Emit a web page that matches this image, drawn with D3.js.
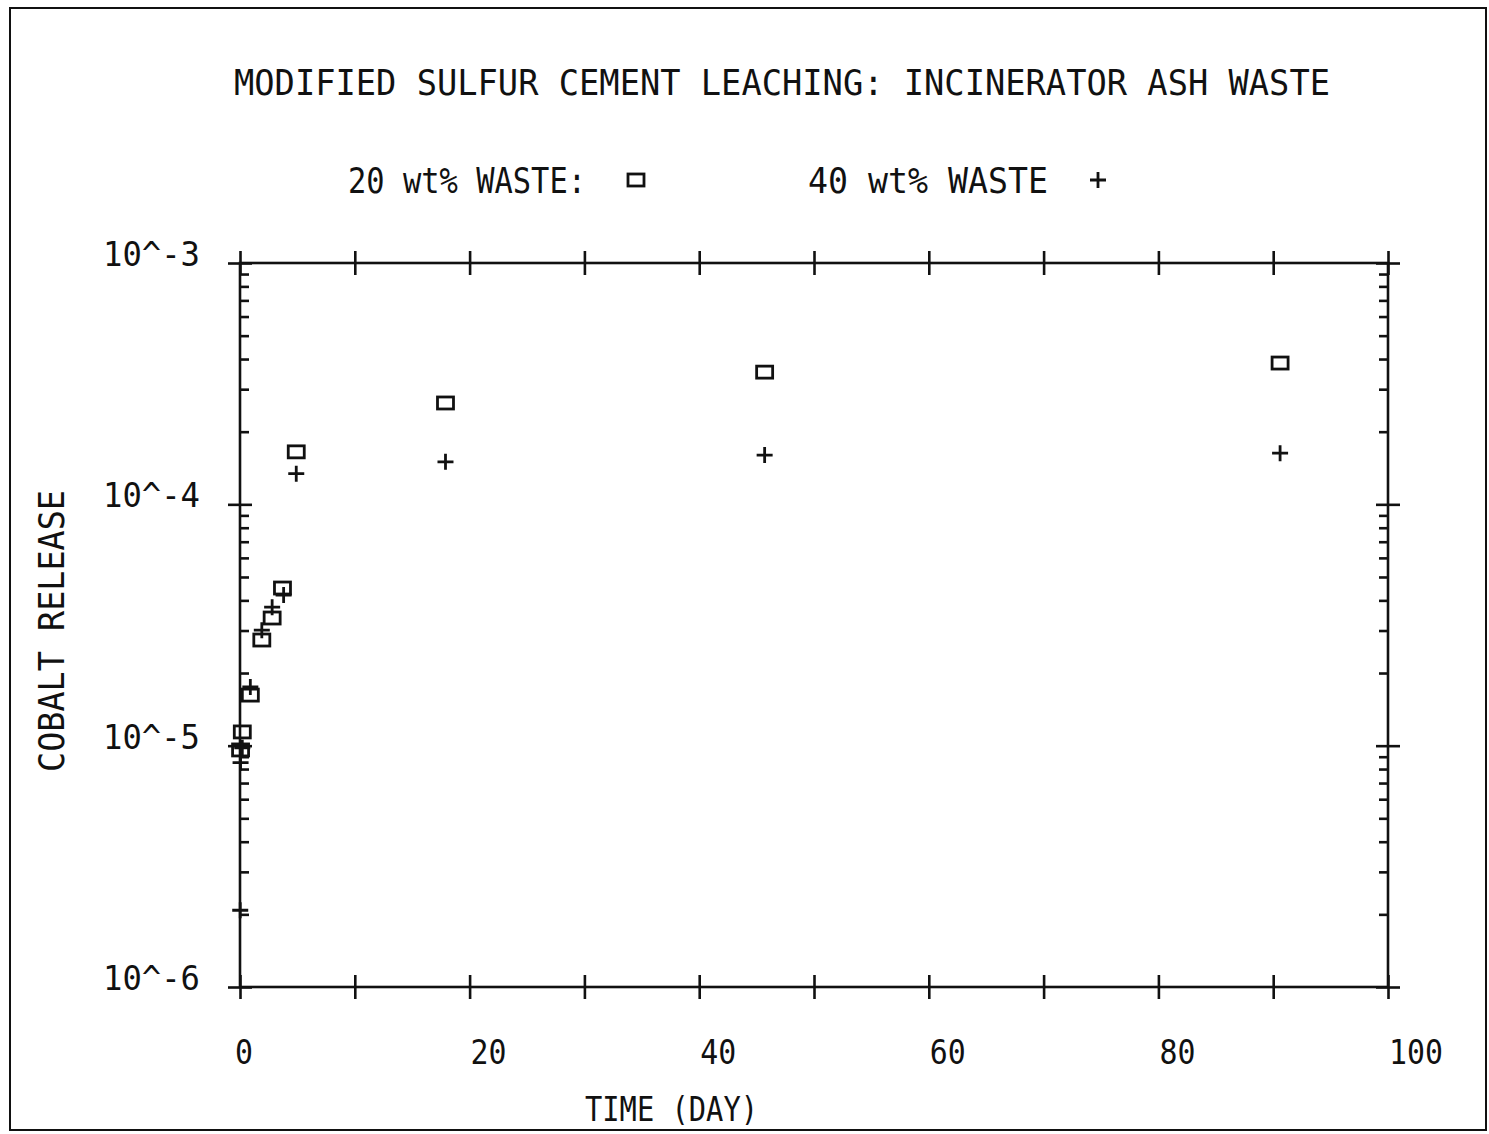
<!DOCTYPE html>
<html>
<head>
<meta charset="utf-8">
<script src="https://cdn.jsdelivr.net/npm/d3@7"></script>
<style>
  body { margin: 0; background: #fff; }
  svg text { font-family: "DejaVu Sans Mono", monospace; fill: #111; }
</style>
</head>
<body>
<div class="chart"></div>
<script>

// values (days, fraction released)
const days20 = [0.05, 0.2, 0.9, 1.9, 2.8, 3.7, 4.9, 17.9, 45.7, 90.6]
const release20 = [9.6e-6, 1.14e-5, 1.62e-5, 2.74e-5, 3.38e-5, 4.5e-5, 1.65e-4, 2.63e-4, 3.53e-4, 3.85e-4]

const days40 = [0.02, 0.05, 0.2, 0.9, 1.9, 2.8, 3.8, 4.9, 17.9, 45.7, 90.6]
const release40 = [2.08e-6, 8.5e-6, 9.8e-6, 1.75e-5, 3.01e-5, 3.75e-5, 4.21e-5, 1.34e-4, 1.5e-4, 1.6e-4, 1.63e-4]

const xTicks = [0, 20, 40, 60, 80, 100]
const yTicks = [1e-6, 1e-5, 1e-4, 1e-3]
const yTickLabels = ['10^-6', '10^-5', '10^-4', '10^-3']

const width = 1489;
const height = 1134;

const plot = {left: 240, right: 1388, top: 263, bottom: 987}

const svg = d3.select('.chart')
.append('svg')
.attr('width', width)
.attr('height', height);

const x = d3.scaleLinear()
.domain([0, 100])
.range([plot.left, plot.right])

const y = d3.scaleLog()
.domain([1e-6, 1e-3])
.range([plot.bottom, plot.top])

const ink = '#111'

// outer frame
svg.append('rect')
.attr('x', 10).attr('y', 8)
.attr('width', 1476).attr('height', 1122)
.attr('fill', 'none')
.attr('stroke', ink)
.attr('stroke-width', 2)

// box
svg.append('rect')
.attr('x', plot.left).attr('y', plot.top)
.attr('width', plot.right - plot.left).attr('height', plot.bottom - plot.top)
.attr('fill', 'none')
.attr('stroke', ink)
.attr('stroke-width', 2.6)

const styleAxis = (g) => {
	g.select('.domain').remove()
	g.selectAll('.tick line').attr('stroke', ink).attr('stroke-width', 2.6)
	g.selectAll('.tick text').remove()
}

// x ticks, crossing the bottom and top lines
const xMajor = d3.range(0, 101, 10)

svg.append('g')
.attr('transform', `translate(0,${plot.bottom - 12})`)
.call(d3.axisBottom(x).tickValues(xMajor).tickSize(24))
.call(styleAxis)

svg.append('g')
.attr('transform', `translate(0,${plot.top - 12})`)
.call(d3.axisBottom(x).tickValues(xMajor).tickSize(24))
.call(styleAxis)

// y decades cross the side lines
svg.append('g')
.attr('transform', `translate(${plot.left - 12},0)`)
.call(d3.axisRight(y).tickValues(yTicks).tickSize(24))
.call(styleAxis)

svg.append('g')
.attr('transform', `translate(${plot.right - 12},0)`)
.call(d3.axisRight(y).tickValues(yTicks).tickSize(24))
.call(styleAxis)

// minor log ticks, inside only
let minor = []
for (let e = -6; e < -3; e++) {
	for (let k = 2; k <= 9; k++) minor.push(k * Math.pow(10, e))
}

svg.append('g')
.attr('transform', `translate(${plot.left},0)`)
.call(d3.axisRight(y).tickValues(minor).tickSize(9))
.call(styleAxis)

svg.append('g')
.attr('transform', `translate(${plot.right},0)`)
.call(d3.axisLeft(y).tickValues(minor).tickSize(9))
.call(styleAxis)

// tick labels
svg.append('g')
.selectAll('text')
.data(xTicks)
.enter()
.append('text')
.attr('x', d => x(d) + (d === 0 ? -5 : 1))
.attr('y', 1064)
.attr('font-size', 34)
.attr('textLength', d => String(d).length * 18)
.attr('lengthAdjust', 'spacingAndGlyphs')
.attr('text-anchor', 'start')
.text(d => d)

svg.append('g')
.selectAll('text')
.data(yTicks)
.enter()
.append('text')
.attr('x', 103)
.attr('y', d => y(d) + 3)
.attr('font-size', 34)
.attr('textLength', 97)
.attr('lengthAdjust', 'spacingAndGlyphs')
.text((d, i) => yTickLabels[i])

// titles
svg.append('text')
.attr('x', 234).attr('y', 95)
.attr('font-size', 36)
.attr('textLength', 1096)
.attr('lengthAdjust', 'spacingAndGlyphs')
.text('MODIFIED SULFUR CEMENT LEACHING: INCINERATOR ASH WASTE')

svg.append('text')
.attr('x', 348).attr('y', 193)
.attr('font-size', 36)
.attr('textLength', 238)
.attr('lengthAdjust', 'spacingAndGlyphs')
.text('20 wt% WASTE:')

svg.append('text')
.attr('x', 808).attr('y', 193)
.attr('font-size', 36)
.attr('textLength', 240)
.attr('lengthAdjust', 'spacingAndGlyphs')
.text('40 wt% WASTE')

svg.append('text')
.attr('x', 585).attr('y', 1121)
.attr('font-size', 33)
.attr('textLength', 173)
.attr('lengthAdjust', 'spacingAndGlyphs')
.text('TIME (DAY)')

svg.append('text')
.attr('transform', 'translate(64,772) rotate(-90)')
.attr('font-size', 36)
.attr('textLength', 282)
.attr('lengthAdjust', 'spacingAndGlyphs')
.text('COBALT RELEASE')

// markers
const square = (g, cx, cy) => g.append('rect')
	.attr('x', cx - 8).attr('y', cy - 6)
	.attr('width', 16).attr('height', 12)
	.attr('fill', 'none')
	.attr('stroke', ink)
	.attr('stroke-width', 2.8)

const plus = (g, cx, cy) => g.append('path')
	.attr('d', `M${cx - 8},${cy}H${cx + 8}M${cx},${cy - 8}V${cy + 8}`)
	.attr('stroke', ink)
	.attr('stroke-width', 2.8)
	.attr('fill', 'none')

const pts20 = days20.map((d, i) => ({day: d, value: release20[i]}))
const pts40 = days40.map((d, i) => ({day: d, value: release40[i]}))

const marks = svg.append('g')

pts20.forEach(p => square(marks, x(p.day), y(p.value)))
pts40.forEach(p => plus(marks, x(p.day), y(p.value)))

// legend symbols
square(svg, 636, 180)
plus(svg, 1098, 180)

</script>
</body>
</html>
